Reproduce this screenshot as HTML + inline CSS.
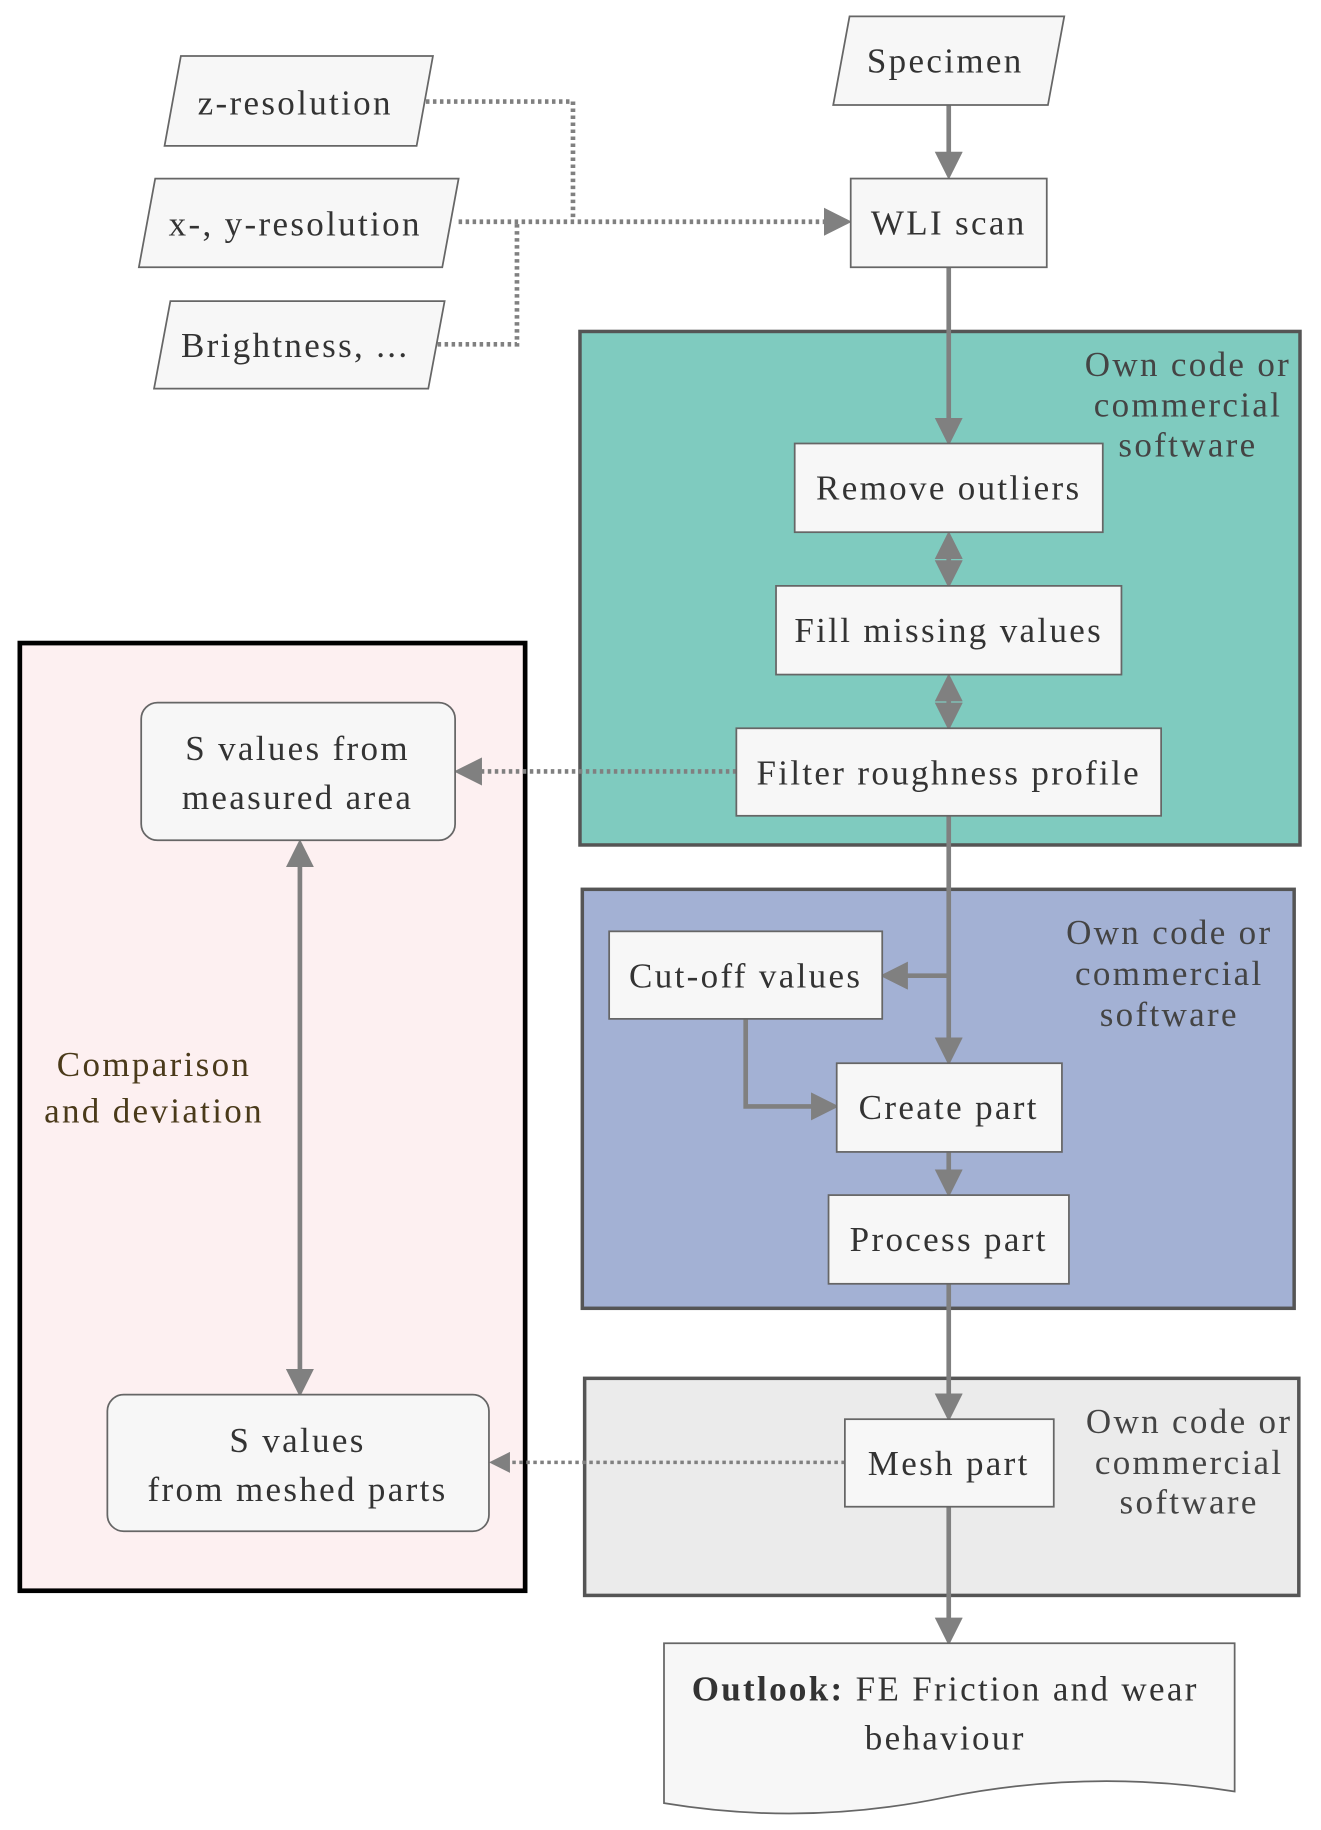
<!DOCTYPE html>
<html><head><meta charset="utf-8"><style>
html,body{margin:0;padding:0;background:#fff;}
svg{display:block;}
text{font-family:"Liberation Serif",serif;font-size:30px;letter-spacing:2px;fill:#333;}
</style></head><body>
<svg width="1321" height="1830" viewBox="0 0 1132 1568" preserveAspectRatio="none" xmlns="http://www.w3.org/2000/svg">
<defs>
<marker id="a" markerWidth="6" markerHeight="6" refX="5" refY="3" orient="auto" markerUnits="strokeWidth"><path d="M0,0 L6,3 L0,6 z" fill="#808080"/></marker>
<marker id="b" markerWidth="6" markerHeight="6" refX="1" refY="3" orient="auto" markerUnits="strokeWidth"><path d="M6,0 L0,3 L6,6 z" fill="#808080"/></marker>
</defs>
<rect x="497" y="284" width="617" height="440" fill="#7fcbbf" stroke="#555" stroke-width="3"/>
<rect x="499" y="762" width="610" height="359" fill="#a3b1d4" stroke="#555" stroke-width="3"/>
<rect x="501" y="1181" width="612" height="186" fill="#ebebeb" stroke="#555" stroke-width="3"/>
<rect x="17" y="551" width="433" height="812" fill="#fdf0f1" stroke="#000" stroke-width="4"/>
<g text-anchor="middle">
<text x="1018" y="322" style="fill:#444">Own code or</text><text x="1018" y="357" style="fill:#444">commercial</text><text x="1018" y="391" style="fill:#444">software</text>
<text x="1002" y="809" style="fill:#444">Own code or</text><text x="1002" y="844" style="fill:#444">commercial</text><text x="1002" y="879" style="fill:#444">software</text>
<text x="1019" y="1228" style="fill:#444">Own code or</text><text x="1019" y="1263" style="fill:#444">commercial</text><text x="1019" y="1297" style="fill:#444">software</text>
</g>
<g stroke="#808080" stroke-width="4" fill="none">
<path d="M813 90 V150" marker-end="url(#a)"/>
<path d="M813 229 V378" marker-end="url(#a)"/>
<path d="M813 459 V500" marker-start="url(#b)" marker-end="url(#a)"/>
<path d="M813 581 V622" marker-start="url(#b)" marker-end="url(#a)"/>
<path d="M813 699 V909" marker-end="url(#a)"/>
<path d="M813 836 H758" marker-end="url(#a)"/>
<path d="M639 873 V948 H715" marker-end="url(#a)"/>
<path d="M813 987 V1022" marker-end="url(#a)"/>
<path d="M813 1100 V1214" marker-end="url(#a)"/>
<path d="M813 1291 V1406" marker-end="url(#a)"/>
<path d="M257 723 V1193" marker-start="url(#b)" marker-end="url(#a)"/>
</g>
<g stroke="#808080" stroke-width="4" fill="none" stroke-dasharray="3,3">
<path d="M365 87 H491 V188"/>
<path d="M375 295 H443 V190"/>
<path d="M393 190 H726" marker-end="url(#a)"/>
<path d="M631 661 H393" marker-end="url(#a)"/>
<path d="M724 1253 H422" stroke-width="3" marker-end="url(#a)"/>
</g>
<g fill="#f7f7f7" stroke="#666" stroke-width="1.5">
<polygon points="728,14 912,14 898,90 714,90"/>
<polygon points="155,48 371,48 357,125 141,125"/>
<polygon points="133,153 393,153 379,229 119,229"/>
<polygon points="146,258 381,258 367,333 132,333"/>
<rect x="729" y="153" width="168" height="76"/>
<rect x="681" y="380" width="264" height="76"/>
<rect x="665" y="502" width="296" height="76"/>
<rect x="631" y="624" width="364" height="75"/>
<rect x="522" y="798" width="234" height="75"/>
<rect x="717" y="911" width="193" height="76"/>
<rect x="710" y="1024" width="206" height="76"/>
<rect x="724" y="1216" width="179" height="75"/>
<rect x="121" y="602" width="269" height="118" rx="14"/>
<rect x="92" y="1195" width="327" height="117" rx="14"/>
<path d="M569 1408 H1058 V1535 Q935 1515 810 1540 Q690 1565 569 1545 Z"/>
</g>
<g text-anchor="middle">
<text x="810" y="62">Specimen</text>
<text x="253" y="98">z-resolution</text>
<text x="253" y="202">x-, y-resolution</text>
<text x="253" y="306">Brightness, ...</text>
<text x="813" y="201">WLI scan</text>
<text x="813" y="428">Remove outliers</text>
<text x="813" y="550">Fill missing values</text>
<text x="813" y="672">Filter roughness profile</text>
<text x="639" y="846">Cut-off values</text>
<text x="813" y="959">Create part</text>
<text x="813" y="1072">Process part</text>
<text x="813" y="1264">Mesh part</text>
<text x="255" y="651">S values from</text>
<text x="255" y="693">measured area</text>
<text x="255" y="1244">S values</text>
<text x="255" y="1286">from meshed parts</text>
<text x="132" y="922" style="fill:#4a3a1a">Comparison</text>
<text x="132" y="962" style="fill:#4a3a1a">and deviation</text>
<text x="810" y="1457"><tspan font-weight="bold">Outlook:</tspan> FE Friction and wear</text>
<text x="810" y="1499">behaviour</text>
</g>
</svg>
</body></html>
